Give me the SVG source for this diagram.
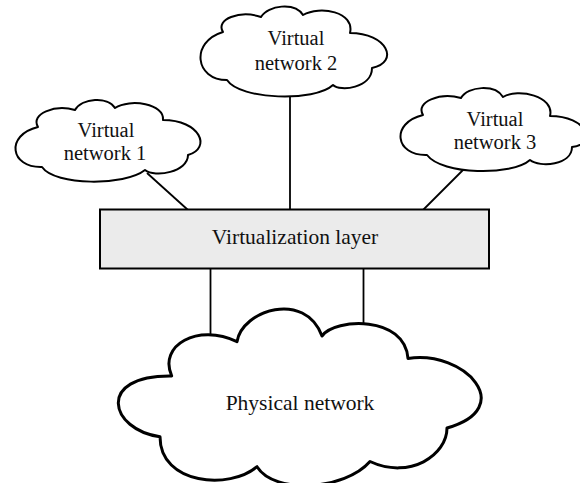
<svg xmlns="http://www.w3.org/2000/svg" width="580" height="483" viewBox="0 0 580 483">
<style>
.cloud{fill:#fff;stroke:#000;stroke-width:2;stroke-linejoin:round}
.big{stroke-width:3}
.layer{fill:#ebebeb;stroke:#000;stroke-width:2}
.conn line{stroke:#000;stroke-width:1.8}
text{font-family:"Liberation Serif","Times New Roman",serif;fill:#111;text-anchor:middle}
.t{font-size:20.5px}
.tb{font-size:21.5px}
</style>
<rect width="580" height="483" fill="#fff"/>
<g id="connectors" class="conn">
<line x1="147" y1="173" x2="188" y2="210"/>
<line x1="290" y1="95" x2="290" y2="210"/>
<line x1="470" y1="163" x2="423" y2="210"/>
<line x1="210.5" y1="268" x2="210.5" y2="336"/>
<line x1="363.5" y1="268" x2="363.5" y2="323"/>
</g>
<g id="vn1">
<path class="cloud" d="M38,127 C30,114 55,104 75,110 C82,98 108,96 115,108 C130,98 165,104 163,120 C200,120 212,148 188,155 C188,172 155,178 145,170 C125,186 55,186 42,167 C10,168 5,135 38,127 Z"/>
<text class="t" x="106" y="137">Virtual</text>
<text class="t" x="105" y="160">network 1</text>
</g>
<g id="vn2">
<path class="cloud" d="M223,32 C215,19 240,10 261,17 C268,5 295,2 303,15 C320,5 355,12 350,33 C387,33 400,62 372,68 C372,88 340,92 333,85 C315,102 240,100 227,80 C195,80 190,42 223,32 Z"/>
<text class="t" x="296" y="45">Virtual</text>
<text class="t" x="296" y="70">network 2</text>
</g>
<g id="vn3">
<path class="cloud" d="M423,115 C415,102 440,92 461,98 C468,86 495,84 503,97 C518,88 555,96 550,116 C587,116 598,144 572,147 C572,165 540,168 530,160 C512,176 442,175 427,155 C395,156 390,123 423,115 Z"/>
<text class="t" x="495" y="126">Virtual</text>
<text class="t" x="495" y="149">network 3</text>
</g>
<g id="layer">
<rect class="layer" x="100" y="209.5" width="389" height="59"/>
<text class="tb" x="295" y="244">Virtualization layer</text>
</g>
<g id="physical">
<path class="cloud big" d="M171.7,376 C158,345 198,323 237,341.7 C242,310 305,290 322,336 C335,318 405,315 408,358.5 C465,350 518,408 447,428 C447,455 410,480 370,461.5 C345,490 275,495 257,466.7 C230,490 160,485 160,436.7 C110,430 95,375 171.7,376 Z"/>
<text class="tb" x="300" y="410">Physical network</text>
</g>
</svg>
